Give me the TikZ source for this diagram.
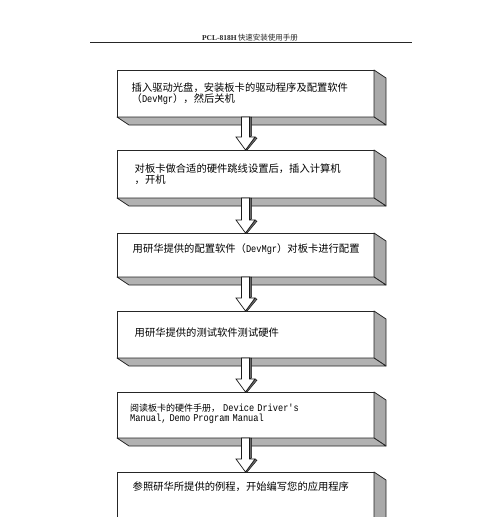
\documentclass[tikz,border=0pt]{standalone}
\usepackage{fontspec}
\setmainfont{Liberation Serif}
\newfontfamily\cjk{Noto Sans CJK SC}
\newfontfamily\mono[FakeStretch=0.84]{Liberation Mono}
\usetikzlibrary{calc}
\definecolor{sidegray}{HTML}{A9A9A9}
\definecolor{botgray}{HTML}{B2B2B2}
\definecolor{arrgray}{HTML}{6A6A6A}
\tikzset{
  stepbox/.style={draw=black!85, line width=0.8pt, fill=white, anchor=north west,
    minimum width=257pt, inner sep=0pt, outer sep=0pt},
  sideface/.style={draw=black!85, line width=0.8pt, fill=sidegray, line join=round},
  botface/.style={draw=black!85, line width=0.8pt, fill=botgray, line join=round},
  steptext/.style={anchor=base west, inner sep=0pt, align=left, text width=245pt,
    font=\cjk\fontsize{10.3}{11}\selectfont, text=black},
  arrface/.style={draw=black!90, line width=0.7pt, fill=white, line join=miter},
  arrside/.style={draw=black!90, line width=0.5pt, fill=arrgray},
  headtext/.style={inner sep=0pt, font=\fontsize{7.5}{8}\selectfont, text=black!85}
}
\newcommand{\boxsides}[1]{%
  \filldraw[sideface] (#1.north east) -- ++(12,8) -- ($(#1.south east)+(12,8)$) -- (#1.south east) -- cycle;
  \filldraw[botface] (#1.south west) -- (#1.south east) -- ($(#1.south east)+(12,8)$) -- ($(#1.south west)+(12,8)$) -- cycle;
}
\newcommand{\flowarrow}[2]{%
  \filldraw[arrside] ($(#1.south)+(4,0)$) -- ($(#1.south)+(6,0)$) -- ($(#2.north)+(6,-14)$) -- ($(#2.north)+(4,-13)$) -- cycle;
  \filldraw[arrside] ($(#2.north)+(9.5,-13)$) -- ($(#2.north)+(11.5,-11.8)$) -- ($(#2.north)+(1.4,0.3)$) -- (#2.north) -- cycle;
  \filldraw[arrface] ($(#1.south)+(-4,0)$) -- ($(#2.north)+(-4,-13)$) -- ($(#2.north)+(-9.5,-13)$) -- (#2.north) -- ($(#2.north)+(9.5,-13)$) -- ($(#2.north)+(4,-13)$) -- ($(#1.south)+(4,0)$) -- cycle;
}
\begin{document}
\begin{tikzpicture}[x=1pt,y=-1pt]
\fill[white] (0,0) rectangle (500,517);
\useasboundingbox (0,0) rectangle (500,517);
\clip (0,0) rectangle (500,517);

% header
\node[headtext] (hdr) at (250,38) {\textbf{PCL-818H}\,{\cjk 快速安装使用手册}};
\coordinate (hl) at (90,42.5);
\coordinate (hr) at (412,42.5);
\draw[line width=0.8pt, black!85] (hl) -- (hr);

% boxes
\node[stepbox, minimum height=47pt] (b1) at (117,70) {};
\node[stepbox, minimum height=48pt] (b2) at (117,150) {};
\node[stepbox, minimum height=44pt] (b3) at (117,233) {};
\node[stepbox, minimum height=47pt] (b4) at (117,311) {};
\node[stepbox, minimum height=46pt] (b5) at (117,392) {};
\node[stepbox, minimum height=70pt] (b6) at (117,472) {};

\boxsides{b1}
\boxsides{b2}
\boxsides{b3}
\boxsides{b4}
\boxsides{b5}
\boxsides{b6}

% texts
\node[steptext] (t1) at ($(b1.north west)+(14.5,21)$) {插入驱动光盘，安装板卡的驱动程序及配置软件\\（{\mono DevMgr}），然后关机};
\node[steptext] (t2) at ($(b2.north west)+(17.5,22)$) {对板卡做合适的硬件跳线设置后，插入计算机\\，开机};
\node[steptext] (t3) at ($(b3.north west)+(15.5,19)$) {用研华提供的配置软件（{\mono DevMgr}）对板卡进行配置};
\node[steptext] (t4) at ($(b4.north west)+(17.5,25)$) {用研华提供的测试软件测试硬件};
\node[steptext, font=\cjk\fontsize{9}{10.5}\selectfont] (t5) at ($(b5.north west)+(13,19)$) {阅读板卡的硬件手册，\hspace{3pt}{\mono\fontsize{10.3}{10.5}\selectfont Device Driver's}\\{\mono\fontsize{10.3}{10.5}\selectfont Manual, Demo Program Manual}};
\node[steptext] (t6) at ($(b6.north west)+(15.5,18)$) {参照研华所提供的例程，开始编写您的应用程序};

% arrows
\flowarrow{b1}{b2}
\flowarrow{b2}{b3}
\flowarrow{b3}{b4}
\flowarrow{b4}{b5}
\flowarrow{b5}{b6}
\end{tikzpicture}
\end{document}
